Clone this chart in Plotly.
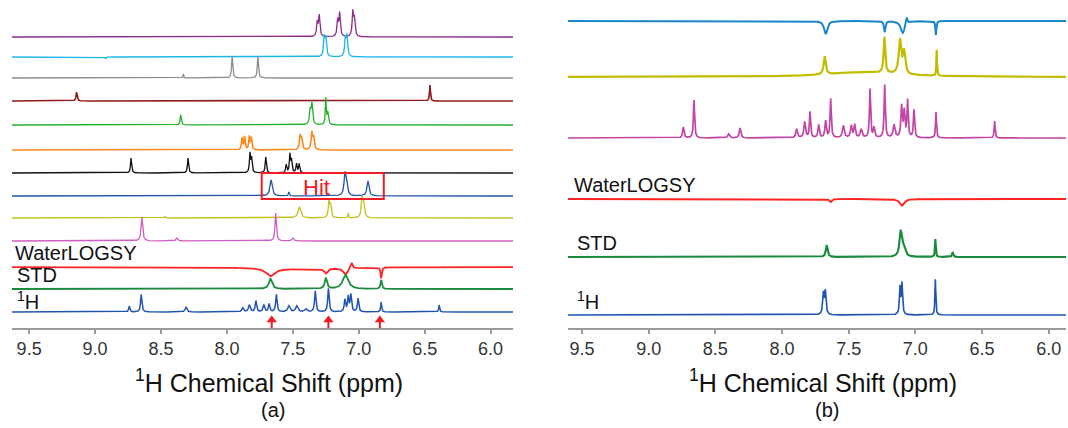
import numpy as np
import plotly.graph_objects as go

# ---------------- data: peak lists (ppm, height, half-width) ----------------
# Panel (a): ligand reference spectra, top to bottom
A_PURPLE = [(7.315, 14, .006), (7.300, 21, .006), (7.160, 16, .006), (7.145, 23, .006),
            (7.045, 24, .006), (7.033, 17, .006)]
A_CYAN = [(7.262, 19, .006), (7.250, 18, .006), (7.102, 18, .006), (7.090, 20, .006),
          (8.92, -2, .003)]
A_GRAY = [(7.960, 22, .005), (7.765, 22, .005), (8.33, 4, .003)]
A_DARKRED = [(9.14, 9, .005), (6.46, 16, .004)]
A_GREEN = [(8.35, 10, .005), (7.368, 14, .007), (7.355, 20, .006), (7.250, 26, .004),
           (7.235, 12, .006)]
A_ORANGE = [(7.885, 12, .005), (7.866, 13, .005), (7.830, 13, .005), (7.815, 12, .005),
            (7.445, 14, .006), (7.433, 10, .006), (7.356, 17, .006), (7.343, 12, .006)]
A_BLACK = [(8.727, 15, .005), (8.295, 15, .005), (7.825, 19, .005), (7.813, 14, .005),
           (7.705, 16, .005), (7.550, 8, .005), (7.522, 18, .005), (7.510, 12, .005),
           (7.472, 9, .005), (7.452, 9, .005)]
A_HIT = [(7.665, 16, .010), (7.53, 4, .004), (7.105, 20, .008), (7.093, 14, .008),
         (6.930, 15, .009)]
A_YELLOW = [(7.450, 11, .012), (7.226, 16, .006), (7.214, 12, .006), (7.08, 5, .003),
            (6.976, 18, .006), (6.964, 15, .008), (8.47, 2, .003)]
A_PINK = [(8.645, 24, .007), (8.38, 3, .008), (7.630, 28, .006), (7.50, 3, .008)]
A_WLOGSY = [(7.67, -8, .04), (7.25, -5, .015), (7.10, -7, .02), (7.055, 6, .008),
            (6.83, -11, .005), (7.45, -2, .30)]
A_STD = [(7.67, 10, .015), (7.25, 11, .010), (7.10, 14, .025), (6.83, 9, .006)]
A_H1 = [(8.74, 6, .005), (8.65, 17.5, .006), (8.31, 5, .008), (7.88, 4, .008),
        (7.83, 7, .008), (7.78, 11, .006), (7.72, 7, .007), (7.68, 8, .006),
        (7.625, 17.5, .006), (7.53, 6, .010), (7.47, 6, .010), (7.40, 3, .010),
        (7.33, 21, .006), (7.23, 23.6, .006), (7.105, 12, .006), (7.08, 15, .006),
        (7.06, 17, .006), (7.005, 13.5, .006), (6.83, 10, .004), (6.39, 7, .004)]

# Panel (b): mixture experiments, top to bottom
B_TOP = [(7.673, -13, .014), (7.23, -11, .006), (7.094, -12, .018), (7.064, 6.5, .005),
         (6.846, -14, .004)]
B_YELLOW = [(7.68, 18, .009), (7.232, 36, .007), (7.115, 34, .011), (7.085, 22, .010),
            (6.84, 26, .003), (7.40, 5, .30)]
B_PINK = [(8.74, 11, .006), (8.66, 38, .005), (8.40, 4, .008), (8.315, 10, .007),
          (7.89, 9, .007), (7.83, 16, .007), (7.79, 26, .005), (7.725, 13, .006),
          (7.673, 17, .006), (7.635, 39, .005), (7.54, 12, .008), (7.48, 12, .007),
          (7.455, 13, .006), (7.406, 8.5, .008), (7.34, 49, .005), (7.31, 10, .006),
          (7.23, 53, .005), (7.16, 13, .008), (7.103, 31, .006), (7.083, 26, .006),
          (7.058, 37, .005), (7.01, 28, .005), (6.845, 26, .004), (6.405, 17, .004)]
B_WLOGSY = [(7.635, -3, .010), (7.10, -6.6, .020)]
B_STD = [(7.665, 12, .008), (7.11, 24, .010), (7.09, 9, .015), (6.85, 18, .0035),
         (6.72, 5, .005)]
B_H1 = [(7.690, 21, .006), (7.675, 23, .006), (7.115, 27, .005), (7.100, 31, .005),
        (6.850, 36, .0035)]

TICKS = [9.5, 9.0, 8.5, 8.0, 7.5, 7.0, 6.5, 6.0]
AXIS_TITLE = "<sup>1</sup>H Chemical Shift (ppm)"
ARROW_PPM = [7.66, 7.23, 6.84]
HIT_BOX = (7.736, 6.81)

# ---------------- layout helpers ----------------
H_AXIS = 328  # pixel row of the x axis lines


def val(py):
    return H_AXIS - py


def spectrum(x, peaks):
    y = np.zeros_like(x)
    for c, h, w in peaks:
        y += h / (1.0 + ((x - c) / w) ** 2)
    return y


xa = np.linspace(9.63, 5.83, 5000)
xb = np.linspace(9.605, 5.87, 5000)

panel_a = [
    (A_PURPLE, 37, "#8a2c8c", 1.3),
    (A_CYAN, 57, "#1cb6e8", 1.3),
    (A_GRAY, 78, "#8c8c8c", 1.3),
    (A_DARKRED, 101, "#8e1b1b", 1.6),
    (A_GREEN, 125, "#22b02a", 1.3),
    (A_ORANGE, 150, "#ff8a1c", 1.6),
    (A_BLACK, 173, "#111111", 1.3),
    (A_HIT, 196, "#1f55a8", 1.3),
    (A_YELLOW, 218, "#c3c01a", 1.3),
    (A_PINK, 241, "#cf5fc0", 1.3),
    (A_WLOGSY, 267, "#ff2222", 1.8),
    (A_STD, 289, "#1a8a3c", 1.8),
    (A_H1, 312, "#1f55b0", 1.5),
]
panel_b = [
    (B_TOP, 21, "#1a86c8", 2.0),
    (B_YELLOW, 77, "#c2bd00", 2.2),
    (B_PINK, 138, "#c244a4", 1.7),
    (B_WLOGSY, 199, "#ff2222", 1.9),
    (B_STD, 257, "#1a8a3c", 2.1),
    (B_H1, 315, "#1f55b0", 1.6),
]

fig = go.Figure()
for peaks, base, color, lw in panel_a:
    fig.add_trace(go.Scatter(x=xa, y=val(base) + spectrum(xa, peaks), mode="lines",
                             line=dict(color=color, width=lw), xaxis="x", yaxis="y",
                             hoverinfo="skip", showlegend=False))
for peaks, base, color, lw in panel_b:
    fig.add_trace(go.Scatter(x=xb, y=val(base) + spectrum(xb, peaks), mode="lines",
                             line=dict(color=color, width=lw), xaxis="x2", yaxis="y",
                             hoverinfo="skip", showlegend=False))

# red arrows under the 1H trace (stem + head)
for p in ARROW_PPM:
    fig.add_shape(type="line", xref="x", yref="y", x0=p, x1=p, y0=val(331), y1=val(322),
                  line=dict(color="#ee1c24", width=2))
fig.add_trace(go.Scatter(x=ARROW_PPM, y=[val(320)] * len(ARROW_PPM), mode="markers",
                         marker=dict(symbol="triangle-up", size=9, color="#ee1c24"),
                         xaxis="x", yaxis="y", cliponaxis=False, hoverinfo="skip",
                         showlegend=False))

FONT = "Liberation Sans, Arial, sans-serif"
W, H = 1068, 428

axis_common = dict(showline=True, linecolor="#9a9a9a", linewidth=1.5, ticks="outside",
                   ticklen=4, tickwidth=1.5, tickcolor="#9a9a9a", tickvals=TICKS,
                   ticktext=[f"{t:.1f}" for t in TICKS], showgrid=False, zeroline=False,
                   tickfont=dict(family=FONT, size=18, color="#333333"), anchor="y")

fig.update_layout(
    width=W, height=H, margin=dict(l=0, r=0, t=0, b=0),
    paper_bgcolor="white", plot_bgcolor="white",
    xaxis=dict(domain=[12 / W, 513 / W], range=[9.63, 5.83], **axis_common),
    xaxis2=dict(domain=[568 / W, 1066 / W], range=[9.605, 5.87], **axis_common),
    yaxis=dict(domain=[(H - H_AXIS) / H, 1], range=[0, H_AXIS], visible=False),
)

# Hit box
fig.add_shape(type="rect", xref="x", yref="y", x0=HIT_BOX[0], x1=HIT_BOX[1],
              y0=val(199), y1=val(173), line=dict(color="#ee1c24", width=2))

ann = []
ann.append(dict(x=7.32, y=val(187), xref="x", yref="y", text="Hit", showarrow=False,
                font=dict(family=FONT, size=22, color="#ee1c24")))

labels = [("WaterLOGSY", 13, 253), ("STD", 15, 275), ("<sup>1</sup>H", 15, 300),
          ("WaterLOGSY", 572, 185), ("STD", 575, 243), ("<sup>1</sup>H", 575, 300)]
for t, px, py in labels:
    ann.append(dict(x=px / W, y=1 - py / H, xref="paper", yref="paper", text=t,
                    showarrow=False, xanchor="left", yanchor="middle",
                    font=dict(family=FONT, size=20, color="#111111")))

for cx, sub in [(269, "(a)"), (823, "(b)")]:
    ann.append(dict(x=cx / W, y=1 - 381 / H, xref="paper", yref="paper", text=AXIS_TITLE,
                    showarrow=False, xanchor="center", yanchor="middle",
                    font=dict(family=FONT, size=25, color="#111111")))
    ann.append(dict(x=(cx + 4) / W, y=1 - 410 / H, xref="paper", yref="paper", text=sub,
                    showarrow=False, xanchor="center", yanchor="middle",
                    font=dict(family=FONT, size=20, color="#111111")))

fig.update_layout(annotations=ann)
fig.write_html("out.html", config={"displayModeBar": False},
               post_script="document.body.style.margin='0';document.body.style.overflow='hidden';")
